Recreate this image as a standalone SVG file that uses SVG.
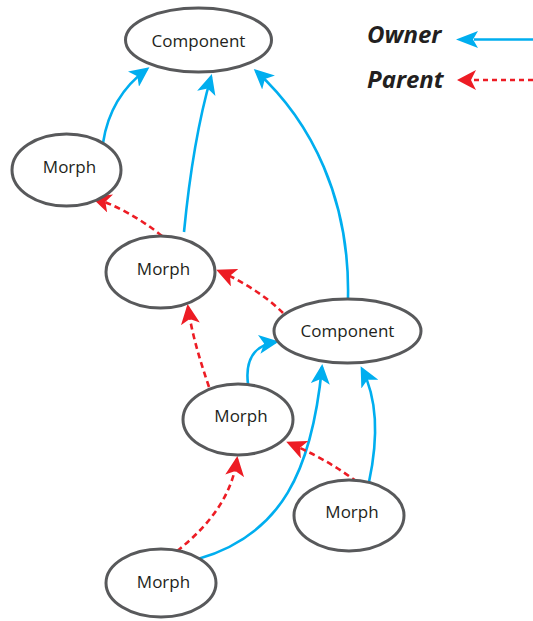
<svg xmlns="http://www.w3.org/2000/svg" width="533" height="621" viewBox="0 0 533 621">
  <style>
    .node ellipse { fill: #ffffff; stroke: #58595B; stroke-width: 3; }
    .node text { font-family: "Open Sans", "Liberation Sans", sans-serif; font-size: 17px; fill: #231F20; text-anchor: middle; }
    .owner { fill: none; stroke: #00AEEF; stroke-width: 2.6; marker-end: url(#arrowOwner); }
    .parent { fill: none; stroke: #ED1C24; stroke-width: 2.6; stroke-dasharray: 6 4; marker-end: url(#arrowParent); }
    .legend text { font-family: "Open Sans", "Liberation Sans", sans-serif; font-size: 24px; font-weight: bold; font-style: italic; fill: #231F20; }
  </style>
  <defs>
    <marker id="arrowOwner" markerUnits="userSpaceOnUse" markerWidth="20" markerHeight="19" viewBox="0 0 20 19" refX="17" refY="9.5" orient="auto">
      <path d="M0,0 L20,9.5 L0,19 L5,9.5 z" fill="#00AEEF"/>
    </marker>
    <marker id="arrowParent" markerUnits="userSpaceOnUse" markerWidth="20" markerHeight="19" viewBox="0 0 20 19" refX="17" refY="9.5" orient="auto">
      <path d="M0,0 L20,9.5 L0,19 L5,9.5 z" fill="#ED1C24"/>
    </marker>
  </defs>

  <!-- connectors -->
  <g id="connectors">
    <!-- owner links -->
    <path class="owner" d="M103,143 C108,110 124,86 147,69"/>
    <path class="owner" d="M184,232 C190,170 198,122 211,77"/>
    <path class="owner" d="M348,298 C350,200 312,122 256,71"/>
    <path class="owner" d="M248,384 C245,360 254,345 276,342"/>
    <path class="owner" d="M198,559 C282,535 312,470 322,367"/>
    <path class="owner" d="M369,482 C378,440 378,400 362,369"/>
    <!-- parent links -->
    <path class="parent" d="M162,236 C140,218 115,205 94,198"/>
    <path class="parent" d="M283,313 C265,295 240,280 219,271"/>
    <path class="parent" d="M209,387 C200,360 192,335 188,307"/>
    <path class="parent" d="M177,551 C210,525 232,495 237,459"/>
    <path class="parent" d="M357,482 C335,465 310,452 289,443"/>
  </g>

  <!-- nodes -->
  <g id="component-top" class="node">
    <ellipse cx="198.5" cy="40" rx="73" ry="32"/>
    <text x="198.5" y="47">Component</text>
  </g>
  <g id="morph-a" class="node">
    <ellipse cx="66.5" cy="170" rx="54.5" ry="36"/>
    <text x="69.5" y="173">Morph</text>
  </g>
  <g id="morph-b" class="node">
    <ellipse cx="160.5" cy="272" rx="54.5" ry="36"/>
    <text x="163.5" y="275">Morph</text>
  </g>
  <g id="component-mid" class="node">
    <ellipse cx="347.5" cy="331" rx="73.5" ry="32"/>
    <text x="347.5" y="337">Component</text>
  </g>
  <g id="morph-c" class="node">
    <ellipse cx="238" cy="419.5" rx="55" ry="35.5"/>
    <text x="241" y="422">Morph</text>
  </g>
  <g id="morph-d" class="node">
    <ellipse cx="349" cy="515.5" rx="55" ry="35.5"/>
    <text x="352" y="518">Morph</text>
  </g>
  <g id="morph-e" class="node">
    <ellipse cx="161" cy="583" rx="55" ry="34"/>
    <text x="163.5" y="588">Morph</text>
  </g>

  <!-- legend -->
  <g id="legend" class="legend">
    <text x="367" y="43">Owner</text>
    <line x1="533" y1="39.5" x2="474" y2="39.5" stroke="#00AEEF" stroke-width="2.6"/>
    <path d="M456,39.5 L478,31 L473,39.5 L478,48 z" fill="#00AEEF"/>
    <text x="367" y="88">Parent</text>
    <line x1="533" y1="80" x2="474" y2="80" stroke="#ED1C24" stroke-width="2.6" stroke-dasharray="5 4"/>
    <path d="M457,80 L476,70 L471,80 L476,90 z" fill="#ED1C24"/>
  </g>
</svg>
